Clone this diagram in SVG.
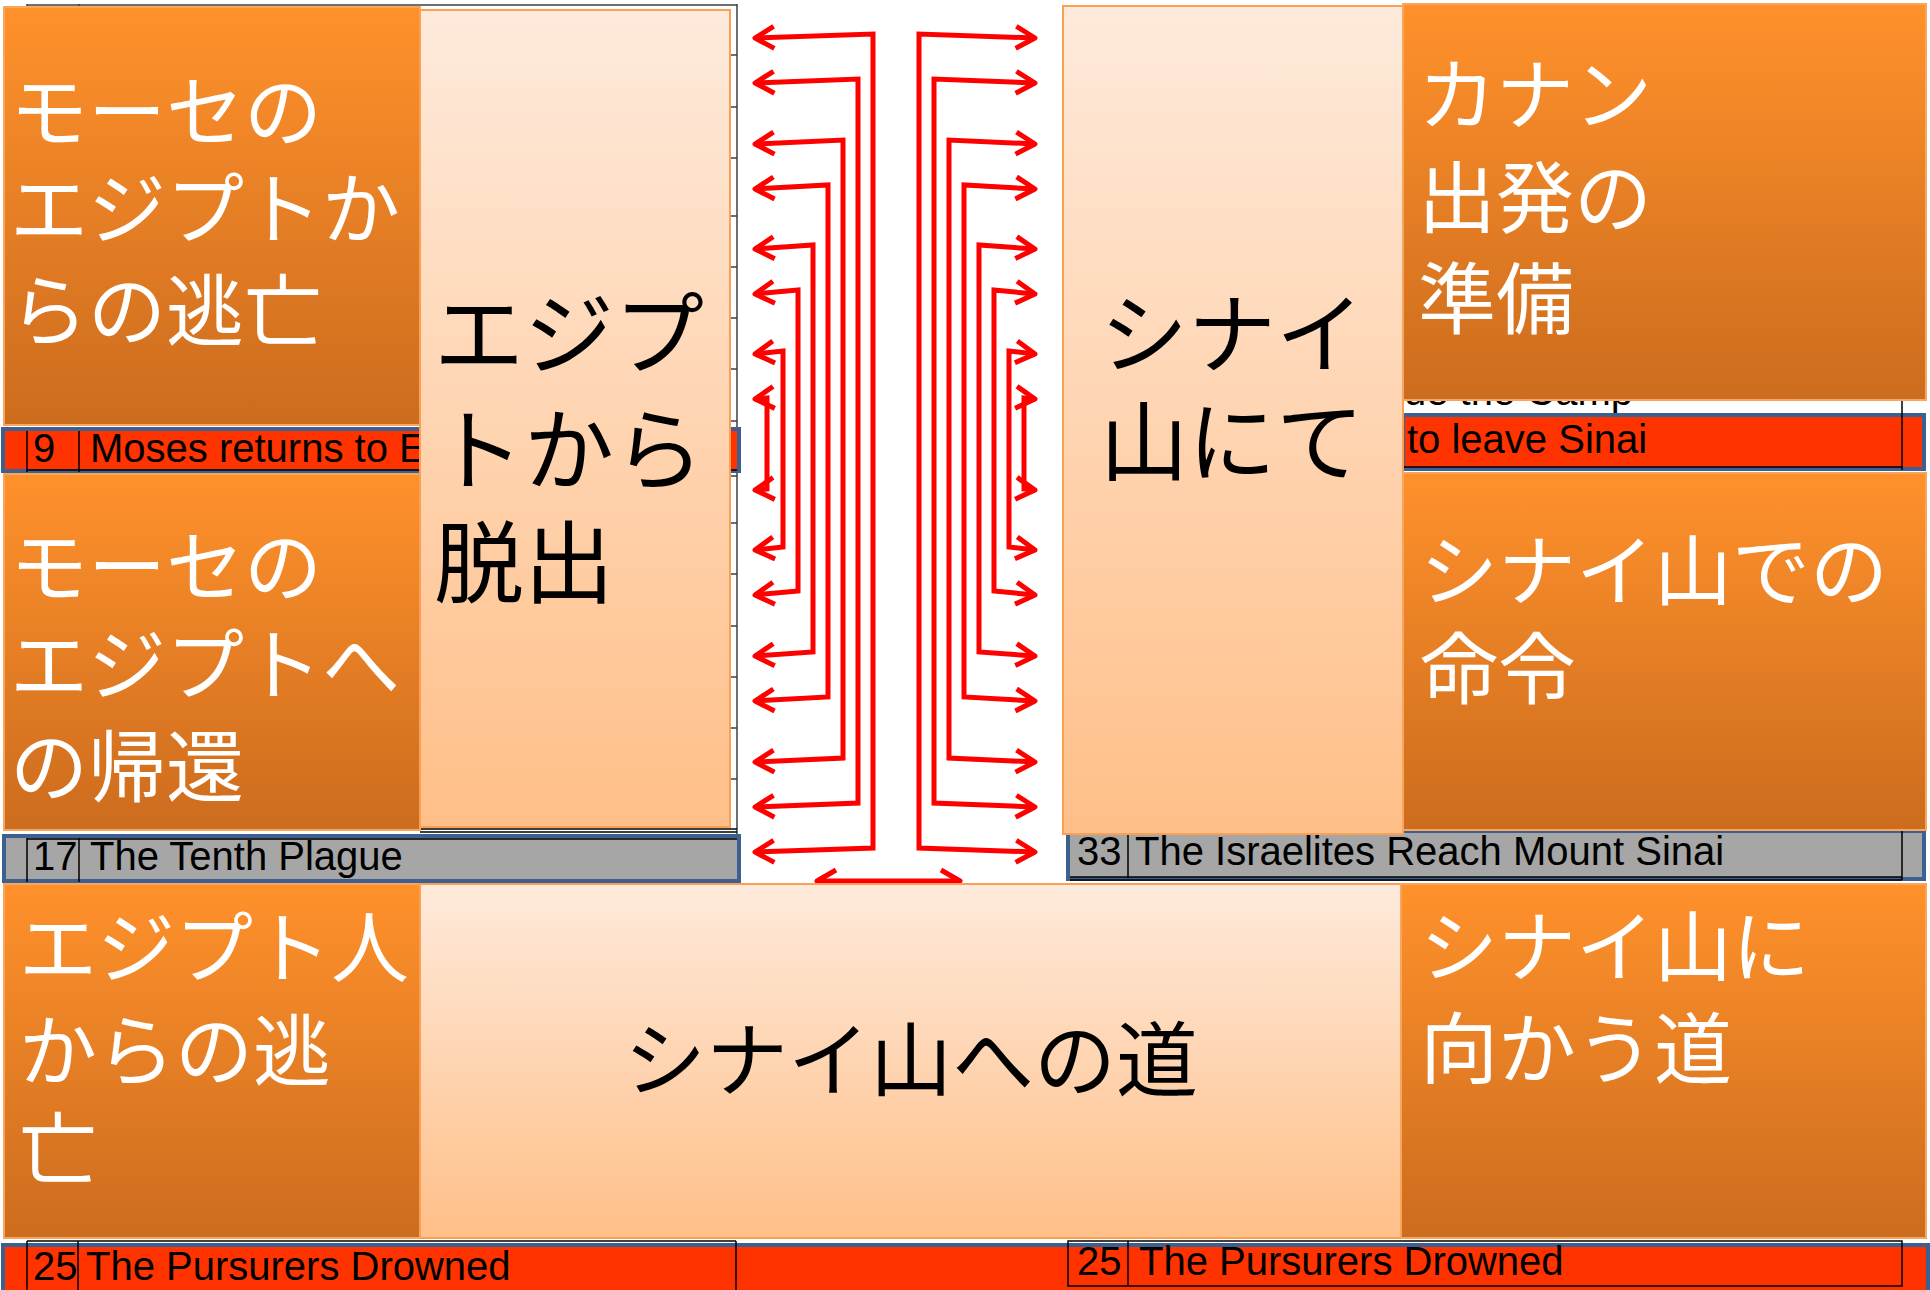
<svg xmlns="http://www.w3.org/2000/svg" width="1930" height="1290" viewBox="0 0 1930 1290">
<defs>
  <linearGradient id="gOrange" x1="0" y1="0" x2="0" y2="1">
    <stop offset="0" stop-color="#FF912B"/>
    <stop offset="1" stop-color="#CC6C1E"/>
  </linearGradient>
  <linearGradient id="gLight" x1="0" y1="0" x2="0" y2="1">
    <stop offset="0" stop-color="#FEEADB"/>
    <stop offset="1" stop-color="#FFBF88"/>
  </linearGradient>
  <marker id="ah" viewBox="-25 -15 30 30" refX="0" refY="0" markerWidth="30" markerHeight="30" markerUnits="userSpaceOnUse" orient="auto-start-reverse">
    <path d="M-19,-11 L0,0 L-19,11" fill="none" stroke="#FF0000" stroke-width="5" stroke-linecap="butt" stroke-linejoin="round"/>
  </marker>
</defs>
<style>
  .dark{fill:url(#gOrange);stroke:#F9A55C;stroke-width:2}
  .light{fill:url(#gLight);stroke:#F9A055;stroke-width:2}
  .jw{font-family:'Noto Sans CJK JP','Noto Sans CJK SC',sans-serif;fill:#FFFFFF;font-size:78px}
  .jb{font-family:'Noto Sans CJK JP','Noto Sans CJK SC',sans-serif;fill:#000000;font-size:90px}
  .en{font-family:'Liberation Sans',Arial,sans-serif;font-size:40px;fill:#000000}
  .red{fill:#FF3300;stroke:#3C6090;stroke-width:4}
  .grey{fill:#A6A6A6;stroke:#3C6090;stroke-width:4}
  .grid{stroke:#000000;stroke-width:1.5;fill:none}
  .tick{stroke:#404040;stroke-width:1.5;fill:none}
  .conn path{fill:none;stroke:#FF0000;stroke-width:5;stroke-linejoin:miter;marker-start:url(#ah);marker-end:url(#ah)}
</style>
<rect x="0" y="0" width="1930" height="1290" fill="#FFFFFF"/>

<g id="table">
  <path class="tick" d="M27,5 H737 M27,4 V8 M79,4 V8 M737,4 V834"/>
  <path class="tick" d="M730,55 H737 M730,107 H737 M730,158 H737 M730,216 H737 M730,267 H737 M730,318 H737 M730,369 H737 M730,421 H737 M730,476 H737 M730,523 H737 M730,574 H737 M730,626 H737 M730,677 H737 M730,728 H737 M730,779 H737"/>
  <path class="grid" d="M420,829 H737 M420,832 H737"/>
  <g id="row9">
    <rect class="red" x="3" y="429" width="736" height="42"/>
    <path class="grid" d="M27,431 V472 M79,431 V472 M27,470 H737"/>
    <text class="en" x="33" y="462">9</text>
    <text class="en" x="90" y="462">Moses returns to E</text>
  </g>
  <g id="row17">
    <rect class="grey" x="4" y="836" width="735" height="45"/>
    <path class="grid" d="M27,838 V882 M79,838 V882 M27,839 H737"/>
    <text class="en" x="33" y="870">17</text>
    <text class="en" x="90" y="870">The Tenth Plague</text>
  </g>
  <g id="rowCamp">
    <text class="en" x="1404" y="405">ue the Camp</text>
    <rect class="red" x="1403" y="415" width="521" height="54"/>
    <path class="grid" d="M1403,467 H1902 M1902,399 V470"/>
    <text class="en" x="1407" y="453">to leave Sinai</text>
  </g>
  <g id="row33">
    <rect class="grey" x="1068" y="831" width="856" height="48"/>
    <path class="grid" d="M1128,831 V878 M1902,831 V880 M1070,877 H1902 M1070,880 H1902"/>
    <text class="en" x="1077" y="865">33</text>
    <text class="en" x="1135" y="865">The Israelites Reach Mount Sinai</text>
  </g>
  <g id="row25">
    <rect class="red" x="3" y="1245" width="1925" height="50"/>
    <path class="grid" d="M27,1241 H736 M27,1241 V1290 M78,1241 V1290 M736,1241 V1290"/>
    <rect class="grid" x="1068" y="1241" width="834" height="45"/>
    <path class="grid" d="M1128,1241 V1286"/>
    <text class="en" x="33" y="1280">25</text>
    <text class="en" x="86" y="1280">The Pursurers Drowned</text>
    <text class="en" x="1077" y="1275">25</text>
    <text class="en" x="1139" y="1275">The Pursurers Drowned</text>
  </g>
</g>

<g id="connectors" class="conn">
  <path d="M755,38 L873,34 V848 L755,852"/>
  <path d="M755,83 L858,79 V803 L755,807"/>
  <path d="M755,144 L843,140 V758 L755,762"/>
  <path d="M755,189 L828,185 V697 L755,701"/>
  <path d="M755,249 L813,245 V652 L755,656"/>
  <path d="M755,294 L798,290 V591 L755,595"/>
  <path d="M755,354 L783,351 V547 L755,550"/>
  <path d="M755,399 L767,398 V489 L755,490"/>
  <path d="M1035,38 L919,34 V848 L1035,852"/>
  <path d="M1035,83 L934,79 V803 L1035,807"/>
  <path d="M1035,144 L949,140 V758 L1035,762"/>
  <path d="M1035,189 L964,185 V697 L1035,701"/>
  <path d="M1035,249 L979,245 V652 L1035,656"/>
  <path d="M1035,294 L994,290 V591 L1035,595"/>
  <path d="M1035,354 L1009,351 V547 L1035,550"/>
  <path d="M1035,399 L1024,398 V489 L1035,490"/>
  <path d="M817,881 H960"/>
</g>

<g id="node-moses-escape">
  <rect class="dark" x="4" y="7" width="416" height="418"/>
  <text class="jw"><tspan x="10" y="141">モーセの</tspan><tspan x="10" y="238">エジプトか</tspan><tspan x="10" y="340">らの逃亡</tspan></text>
</g>
<g id="node-moses-return">
  <rect class="dark" x="4" y="474" width="416" height="356"/>
  <text class="jw"><tspan x="10" y="596">モーセの</tspan><tspan x="10" y="694">エジプトへ</tspan><tspan x="10" y="796">の帰還</tspan></text>
</g>
<g id="node-exodus">
  <rect class="light" x="420" y="10" width="310" height="817"/>
  <text class="jb"><tspan x="434" y="367">エジプ</tspan><tspan x="434" y="483">トから</tspan><tspan x="434" y="596">脱出</tspan></text>
</g>
<g id="node-sinai">
  <rect class="light" x="1063" y="6" width="340" height="828"/>
  <text class="jb" style="font-size:88px"><tspan x="1100" y="366">シナイ</tspan><tspan x="1100" y="474">山にて</tspan></text>
</g>
<g id="node-canaan">
  <rect class="dark" x="1403" y="4" width="523" height="396"/>
  <text class="jw"><tspan x="1418" y="124">カナン</tspan><tspan x="1418" y="227">出発の</tspan><tspan x="1418" y="328">準備</tspan></text>
</g>
<g id="node-commands">
  <rect class="dark" x="1403" y="473" width="523" height="357"/>
  <text class="jw"><tspan x="1420" y="600">シナイ山での</tspan><tspan x="1420" y="698">命令</tspan></text>
</g>
<g id="node-flee-egyptians">
  <rect class="dark" x="4" y="884" width="416" height="354"/>
  <text class="jw"><tspan x="19" y="977">エジプト人</tspan><tspan x="19" y="1080">からの逃</tspan><tspan x="19" y="1178">亡</tspan></text>
</g>
<g id="node-road">
  <rect class="light" x="420" y="884" width="981" height="354"/>
  <text class="jb" style="font-size:82px" x="911" y="1090" text-anchor="middle">シナイ山への道</text>
</g>
<g id="node-toward-sinai">
  <rect class="dark" x="1401" y="884" width="525" height="354"/>
  <text class="jw"><tspan x="1420" y="976">シナイ山に</tspan><tspan x="1420" y="1078">向かう道</tspan></text>
</g>
</svg>
